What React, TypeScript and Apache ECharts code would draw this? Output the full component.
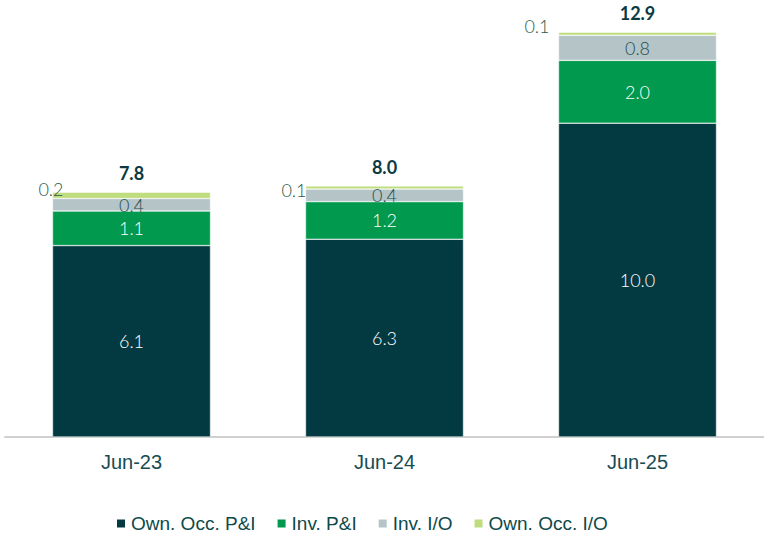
import React, { useEffect, useRef } from "react";
import * as echarts from "echarts";

const categories = ["Jun-23", "Jun-24", "Jun-25"];
const ownOccPI = [6.1, 6.3, 10.0];
const invPI = [1.1, 1.2, 2.0];
const invIO = [0.4, 0.4, 0.8];
const ownOccIO = [0.2, 0.1, 0.1];
const totals = [7.8, 8.0, 12.9];

const seriesNames = ["Own. Occ. P&I", "Inv. P&I", "Inv. I/O", "Own. Occ. I/O"];
const colors = ["#033a42", "#00994d", "#b4c4c7", "#bfdc7e"];
const topLabelOffsets = [[16, -6], [6, 3], [-4, -8]];

const labelFont = "Lato, 'Open Sans', sans-serif";
const arial = "'Liberation Sans', Arial, sans-serif";

export default function App() {
  const ref = useRef<HTMLDivElement>(null);
  useEffect(() => {
    document.body.style.margin = "0";
    if (!ref.current) return;
    const chart = echarts.init(ref.current, undefined, { renderer: "svg" });
    const fmt = (p: any) => Number(p.value).toFixed(1);
    const base = (name: string, data: number[], color: string, labelColor: string) => ({
      name,
      type: "bar",
      stack: "total",
      barWidth: 158,
      data,
      itemStyle: { color, borderColor: "#ffffff", borderWidth: 0.5 },
      label: {
        show: true,
        position: "inside",
        color: labelColor,
        fontFamily: labelFont,
        fontSize: 18,
        fontWeight: 300,
        formatter: fmt,
      },
    });
    chart.setOption({
      animation: false,
      backgroundColor: "#ffffff",
      grid: { left: 5, right: 0, top: 29, bottom: 103 },
      legend: {
        bottom: 7,
        left: 115,
        padding: 0,
        data: seriesNames,
        icon: "rect",
        itemWidth: 10,
        itemHeight: 10,
        itemGap: 20,
        textStyle: { color: "#0d4a4a", fontFamily: arial, fontSize: 19, padding: [0, 0, 0, 0] },
      },
      xAxis: {
        type: "category",
        data: categories,
        axisLine: { show: true, lineStyle: { color: "#d0d0d0", width: 2 } },
        axisTick: { show: false },
        axisLabel: {
          color: "#184c52",
          fontFamily: arial,
          fontSize: 20,
          margin: 15,
        },
      },
      yAxis: {
        type: "value",
        min: 0,
        max: 13,
        show: false,
        splitLine: { show: false },
      },
      series: [
        base(seriesNames[0], ownOccPI, colors[0], "#ffffff"),
        base(seriesNames[1], invPI, colors[1], "#ffffff"),
        base(seriesNames[2], invIO, colors[2], "#1f4f50"),
        {
          ...base(seriesNames[3], [], colors[3], "#2e5a48"),
          data: ownOccIO.map((v, i) => ({
            value: v,
            label: { position: "left", offset: topLabelOffsets[i] },
          })),
        },
        {
          name: "Total",
          type: "bar",
          stack: "total",
          barWidth: 158,
          data: totals.map(() => 0),
          itemStyle: { color: "transparent" },
          label: {
            show: true,
            position: "top",
            distance: 10,
            color: "#0b3a40",
            fontFamily: labelFont,
            fontSize: 18,
            fontWeight: "bold",
            formatter: (p: any) => totals[p.dataIndex].toFixed(1),
          },
        },
      ],
    });
    return () => chart.dispose();
  }, []);
  return <div ref={ref} style={{ width: 764, height: 540 }} />;
}
